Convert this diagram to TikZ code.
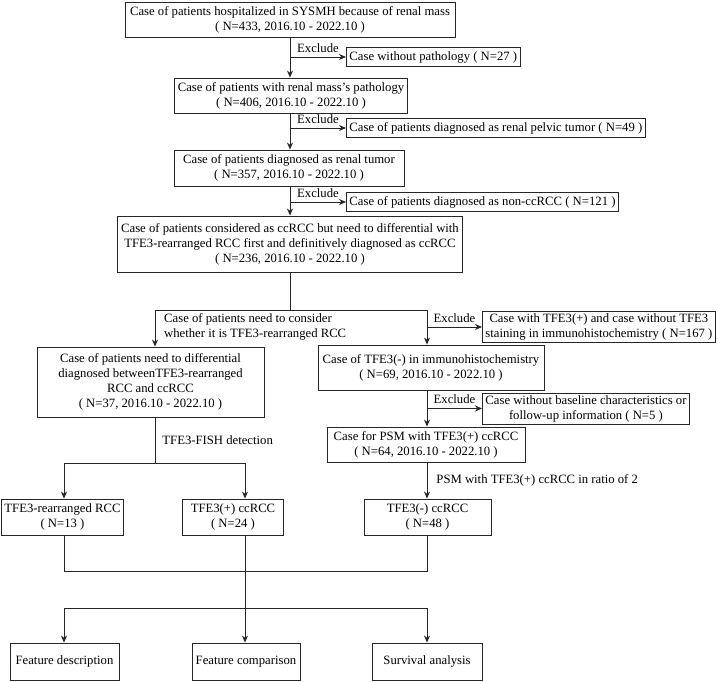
\documentclass[tikz,border=0pt]{standalone}
\usepackage{fontspec}
\setmainfont{Liberation Serif}
\usetikzlibrary{arrows.meta,positioning}
\tikzset{
	>={Stealth[length=7pt,width=6pt]},
	every picture/.style={line join=miter}
}

\begin{document}
\begin{tikzpicture}[x=1pt,y=-1pt]
  \tikzset{
    box/.style={draw=black!85, line width=0.9pt, align=center,
          inner xsep=3pt, inner ysep=2pt, font=\fontsize{12.7}{15}\selectfont},
    exbox/.style={box, anchor=west},
    lbl/.style={inner sep=1pt, font=\fontsize{12.7}{15}\selectfont},
    flow/.style={draw=black!85, line width=0.9pt}
  }
  \useasboundingbox (0,0) rectangle (718,682);

  % main column
  \node[box, minimum width=330, minimum height=35] (adm) at (290,19.5)
        {Case of patients hospitalized in SYSMH because of renal mass\\( N=433, 2016.10 - 2022.10 )};
  \node[box, minimum width=232, minimum height=35] (path) at (291,95.5)
        {Case of patients with renal mass's pathology\\( N=406, 2016.10 - 2022.10 )};
  \node[box, minimum width=230, minimum height=36] (tumor) at (289,168)
        {Case of patients diagnosed as renal tumor\\( N=357, 2016.10 - 2022.10 )};
  \node[box, minimum width=345, minimum height=56] (cand) at (290,244)
        {Case of patients considered as ccRCC but need to differential with\\TFE3-rearranged RCC first and definitively diagnosed as ccRCC\\( N=236, 2016.10 - 2022.10 )};

  \node[exbox, minimum height=19] (nopath) at (346,57) {Case without pathology ( N=27 )};
  \node[exbox, minimum height=19] (pelvic) at (346,128) {Case of patients diagnosed as renal pelvic tumor ( N=49 )};
  \node[exbox, minimum height=19] (nonccrcc) at (346,202) {Case of patients diagnosed as non-ccRCC ( N=121 )};

  \draw[flow,->] (adm) -- (adm.south |- path.north);
  \draw[flow,->] (adm.south |- nopath) -- (nopath) node[lbl, midway, above=3pt] {Exclude};
  \draw[flow,->] (adm.south |- path.south) -- (adm.south |- tumor.north);
  \draw[flow,->] (adm.south |- pelvic) -- (pelvic) node[lbl, midway, above=3pt] {Exclude};
  \draw[flow,->] (adm.south |- tumor.south) -- (adm.south |- cand.north);
  \draw[flow,->] (adm.south |- nonccrcc) -- (nonccrcc) node[lbl, midway, above=3pt] {Exclude};

  % two branches
  \coordinate (fork) at (290,310);
  \coordinate (forkl) at (155,310);
  \coordinate (forkr) at (427,310);

  \node[box, minimum width=227, minimum height=70] (diff) at (150.5,382)
        {Case of patients need to differential\\diagnosed betweenTFE3-rearranged\\RCC and ccRCC\\( N=37, 2016.10 - 2022.10 )};
  \node[box, minimum width=226, minimum height=45] (tfeneg) at (431,367.5)
        {Case of TFE3(-) in immunohistochemistry\\( N=69, 2016.10 - 2022.10 )};
  \node[box, minimum width=198, minimum height=35] (psm) at (426,444.5)
        {Case for PSM with TFE3(+) ccRCC\\( N=64, 2016.10 - 2022.10 )};
  \node[exbox, minimum height=31] (tfepos) at (482,327)
        {Case with TFE3(+) and case without TFE3\\staining in immunohistochemistry ( N=167 )};
  \node[exbox, minimum height=31] (nobase) at (482,408.5)
        {Case without baseline characteristics or\\follow-up information ( N=5 )};

  \draw[flow] (cand) -- (fork);
  \draw[flow] (forkl) -- (forkr);
  \draw[flow,->] (forkl) -- (forkl |- diff.north);
  \draw[flow,->] (forkr) -- (forkr |- tfeneg.north);
  \node[lbl, anchor=north west, align=left] (consider) at (163,312)
        {Case of patients need to consider\\whether it is TFE3-rearranged RCC};
  \draw[flow,->] (forkr |- tfepos) -- (tfepos) node[lbl, midway, above=3pt] {Exclude};
  \draw[flow,->] (forkr |- tfeneg.south) -- (forkr |- psm.north);
  \draw[flow,->] (forkr |- nobase) -- (nobase) node[lbl, midway, above=3pt] {Exclude};

  % results
  \coordinate (fishl) at (64,463);
  \coordinate (fishm) at (155,463);
  \coordinate (fishr) at (245,463);

  \node[box, minimum width=121, minimum height=36] (rearr) at (62.5,517) {TFE3-rearranged RCC\\( N=13 )};
  \node[box, minimum width=101, minimum height=36] (pos) at (233,517) {TFE3(+) ccRCC\\( N=24 )};
  \node[box, minimum width=127, minimum height=36] (neg) at (427.5,517) {TFE3(-) ccRCC\\( N=48 )};

  \draw[flow] (forkl |- diff.south) -- (fishm) node[lbl, midway, right=6pt] {TFE3-FISH detection};
  \draw[flow] (fishl) -- (fishr);
  \draw[flow,->] (fishl) -- (fishl |- rearr.north);
  \draw[flow,->] (fishr) -- (fishr |- pos.north);
  \draw[flow,->] (forkr |- psm.south) -- (forkr |- neg.north)
        node[lbl, midway, right=8pt] {PSM with TFE3(+) ccRCC in ratio of 2};

  % analyses
  \coordinate (joinl) at (64,571);
  \coordinate (joinr) at (427,571);
  \coordinate (outl) at (64,608);
  \coordinate (outr) at (427,608);

  \node[box, minimum width=109, minimum height=37] (desc) at (64.5,661.5) {Feature description};
  \node[box, minimum width=108, minimum height=37] (comp) at (246,661.5) {Feature comparison};
  \node[box, minimum width=110, minimum height=37] (surv) at (427,661.5) {Survival analysis};

  \draw[flow] (joinl |- rearr.south) -- (joinl) -- (joinr) -- (joinr |- neg.south);
  \draw[flow,->] (fishr |- pos.south) -- (fishr |- comp.north);
  \draw[flow] (outl) -- (outr);
  \draw[flow,->] (outl) -- (outl |- desc.north);
  \draw[flow,->] (outr) -- (outr |- surv.north);
\end{tikzpicture}
\end{document}
